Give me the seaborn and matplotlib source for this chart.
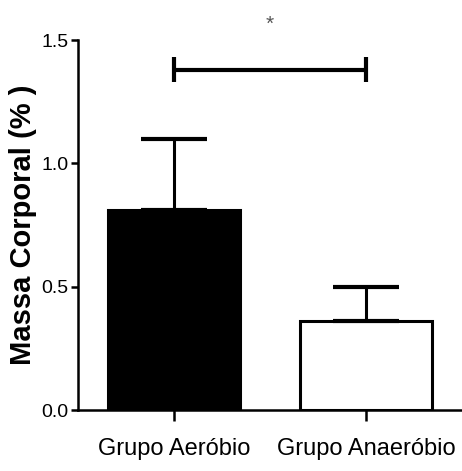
import matplotlib
matplotlib.use("Agg")
import matplotlib.pyplot as plt
import seaborn as sns

# data
groups = ["Grupo Aeróbio", "Grupo Anaeróbio"]
means = [0.81, 0.36]
sems = [0.29, 0.14]
fill_colors = ["black", "white"]
sig_level = 1.38
sig_label = "*"

sns.set_style("ticks")
plt.rcParams['font.family'] = ['Liberation Sans Narrow', 'Liberation Sans', 'DejaVu Sans']
plt.rcParams['text.color'] = 'black'
plt.rcParams['xtick.color'] = 'black'
plt.rcParams['ytick.color'] = 'black'
plt.rcParams['axes.labelcolor'] = 'black'
plt.rcParams['axes.edgecolor'] = 'black'

fig = plt.figure(figsize=(4.62, 4.71), dpi=100)
ax = fig.add_axes([0.169, 0.1295, 0.831, 0.7855])

sns.barplot(x=groups, y=means, hue=groups, palette=fill_colors, legend=False,
            width=0.69, edgecolor="black", linewidth=2.2, ax=ax)

# upper-only error bars, placed at the bar centres
centers = [p.get_x() + p.get_width() / 2 for p in ax.patches]
ax.errorbar(centers, means, yerr=[[0] * len(sems), sems], fmt="none",
            ecolor="black", elinewidth=2.2, capsize=24, capthick=3, zorder=1)

# significance bracket
ax.plot([centers[0], centers[1]], [sig_level, sig_level], color="black", lw=3,
        clip_on=False, solid_capstyle="butt")
for c in centers[:2]:
    ax.plot([c, c], [sig_level - 0.05, sig_level + 0.05], color="black", lw=3,
            clip_on=False, solid_capstyle="butt")
ax.text((centers[0] + centers[1]) / 2, 1.565, sig_label, ha="center", va="center",
        fontsize=15, color="#555555", clip_on=False)

ax.set_ylim(0, 1.5)
ax.set_xlim(-0.5, 1.5)
ax.set_yticks([0.0, 0.5, 1.0, 1.5])
ax.set_yticklabels(["0.0", "0.5", "1.0", "1.5"])
ax.set_ylabel("Massa Corporal (% )", fontsize=21, fontweight="bold",
              family=['Liberation Sans', 'DejaVu Sans'], labelpad=3)
ax.set_xlabel("")

sns.despine(ax=ax)
ax.spines['left'].set_linewidth(1.8)
ax.spines['bottom'].set_linewidth(1.8)
ax.tick_params(axis='y', length=5, width=1.8, labelsize=14, pad=2)
ax.tick_params(axis='x', length=8, width=1.8, labelsize=17, pad=12)

fig.savefig("out.png", dpi=100)
